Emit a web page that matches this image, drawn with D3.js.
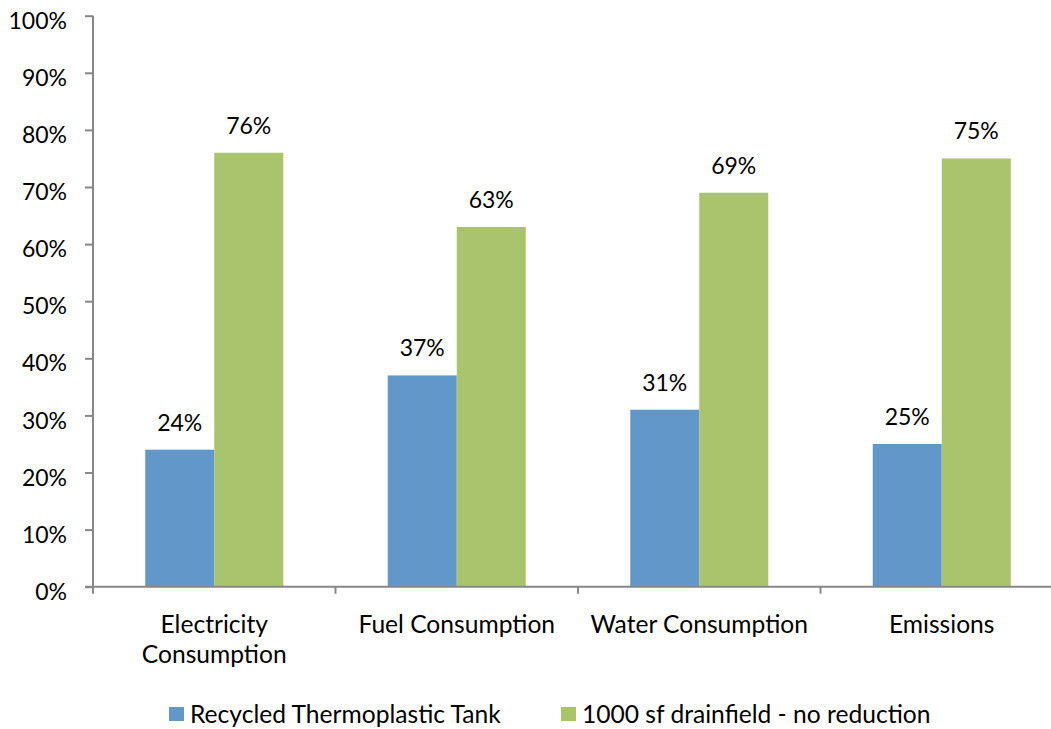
<!DOCTYPE html>
<html>
<head>
<meta charset="utf-8">
<script src="https://cdn.jsdelivr.net/npm/d3@7"></script>
<style>
  html, body { margin: 0; padding: 0; background: #fff; }
  svg { display: block; }
  text { font-family: Lato, "Open Sans", sans-serif; fill: #000; }
</style>
</head>
<body>
<svg id="chart" width="1051" height="729"></svg>
<script>
// Categories and series
const categories = ["Electricity Consumption", "Fuel Consumption", "Water Consumption", "Emissions"];
const categoryLines = [["Electricity", "Consumption"], ["Fuel Consumption"], ["Water Consumption"], ["Emissions"]];
const seriesNames = ["Recycled Thermoplastic Tank", "1000 sf drainfield - no reduction"];
const tankValues = [0.24, 0.37, 0.31, 0.25];
const drainfieldValues = [0.76, 0.63, 0.69, 0.75];
const yTicks = [0, 0.1, 0.2, 0.3, 0.4, 0.5, 0.6, 0.7, 0.8, 0.9, 1.0];
const colors = ["#6297ca", "#aac46e"];

const svg = d3.select("#chart");
const axisColor = "#878787";
const numberSize = 23;   // tick and value labels
const wordSize = 24.6;   // category and legend labels

const plotLeft = 93, plotRight = 1063, plotTop = 15.7, plotBottom = 586.7;

const x0 = d3.scaleBand().domain(categories).range([plotLeft, plotRight]).padding(0);
const x1 = d3.scaleBand().domain(seriesNames).range([0, x0.bandwidth()])
  .paddingInner(0).paddingOuter(0.757);
const y = d3.scaleLinear().domain([0, 1]).range([plotBottom, plotTop]);
const fmt = d3.format(".0%");

const seriesValues = [tankValues, drainfieldValues];

// Bars
const groups = svg.append("g").selectAll("g")
  .data(categories)
  .join("g")
  .attr("transform", d => `translate(${x0(d)},0)`);

groups.selectAll("rect")
  .data((c, i) => seriesNames.map((s, j) => ({ s, j, v: seriesValues[j][i] })))
  .join("rect")
  .attr("x", d => x1(d.s))
  .attr("y", d => y(d.v))
  .attr("width", x1.bandwidth())
  .attr("height", d => y(0) - y(d.v))
  .attr("fill", d => colors[d.j]);

// Value labels
groups.selectAll("text.value")
  .data((c, i) => seriesNames.map((s, j) => ({ s, j, v: seriesValues[j][i] })))
  .join("text")
  .attr("class", "value")
  .attr("x", d => x1(d.s) + x1.bandwidth() / 2)
  .attr("y", d => y(d.v) - 19)
  .attr("text-anchor", "middle")
  .attr("font-size", numberSize)
  .text(d => fmt(d.v));

// Y axis
const yAxis = d3.axisLeft(y).tickValues(yTicks).tickFormat(fmt).tickSize(8).tickPadding(18);
const gy = svg.append("g").attr("transform", `translate(${plotLeft},0)`).call(yAxis);
gy.select(".domain").attr("stroke", axisColor).attr("stroke-width", 2)
  .attr("d", `M0,${plotTop}V${plotBottom}`);
gy.selectAll(".tick line").attr("stroke", axisColor).attr("stroke-width", 2);
gy.selectAll(".tick text")
  .attr("font-size", numberSize)
  .attr("font-family", "Lato, sans-serif")
  .attr("fill", "#000")
  .attr("dy", "0.55em");

// X axis line with boundary ticks
const bounds = categories.map(c => x0(c)).concat([plotRight]);
svg.append("line")
  .attr("x1", plotLeft - 8).attr("x2", plotRight)
  .attr("y1", plotBottom).attr("y2", plotBottom)
  .attr("stroke", axisColor).attr("stroke-width", 2);
svg.append("g").selectAll("line")
  .data(bounds)
  .join("line")
  .attr("x1", d => d).attr("x2", d => d)
  .attr("y1", plotBottom).attr("y2", plotBottom + 7)
  .attr("stroke", axisColor).attr("stroke-width", 2);

// Category labels
const catLabels = svg.append("g").selectAll("text")
  .data(categories)
  .join("text")
  .attr("x", d => x0(d) + x0.bandwidth() / 2)
  .attr("y", 633)
  .attr("text-anchor", "middle")
  .attr("font-size", wordSize);
catLabels.each(function(d, i) {
  const t = d3.select(this);
  categoryLines[i].forEach((line, k) => {
    t.append("tspan")
      .attr("x", x0(d) + x0.bandwidth() / 2)
      .attr("dy", k === 0 ? 0 : 30)
      .text(line);
  });
});

// Legend
const legendItems = [{ name: seriesNames[0], x: 169 }, { name: seriesNames[1], x: 561 }];
const legend = svg.append("g").selectAll("g")
  .data(legendItems)
  .join("g")
  .attr("transform", d => `translate(${d.x},0)`);
legend.append("rect")
  .attr("x", 0).attr("y", 707)
  .attr("width", 15).attr("height", 14)
  .attr("fill", (d, i) => colors[i]);
legend.append("text")
  .attr("x", 21).attr("y", 723)
  .attr("font-size", wordSize)
  .text(d => d.name);
</script>
</body>
</html>
